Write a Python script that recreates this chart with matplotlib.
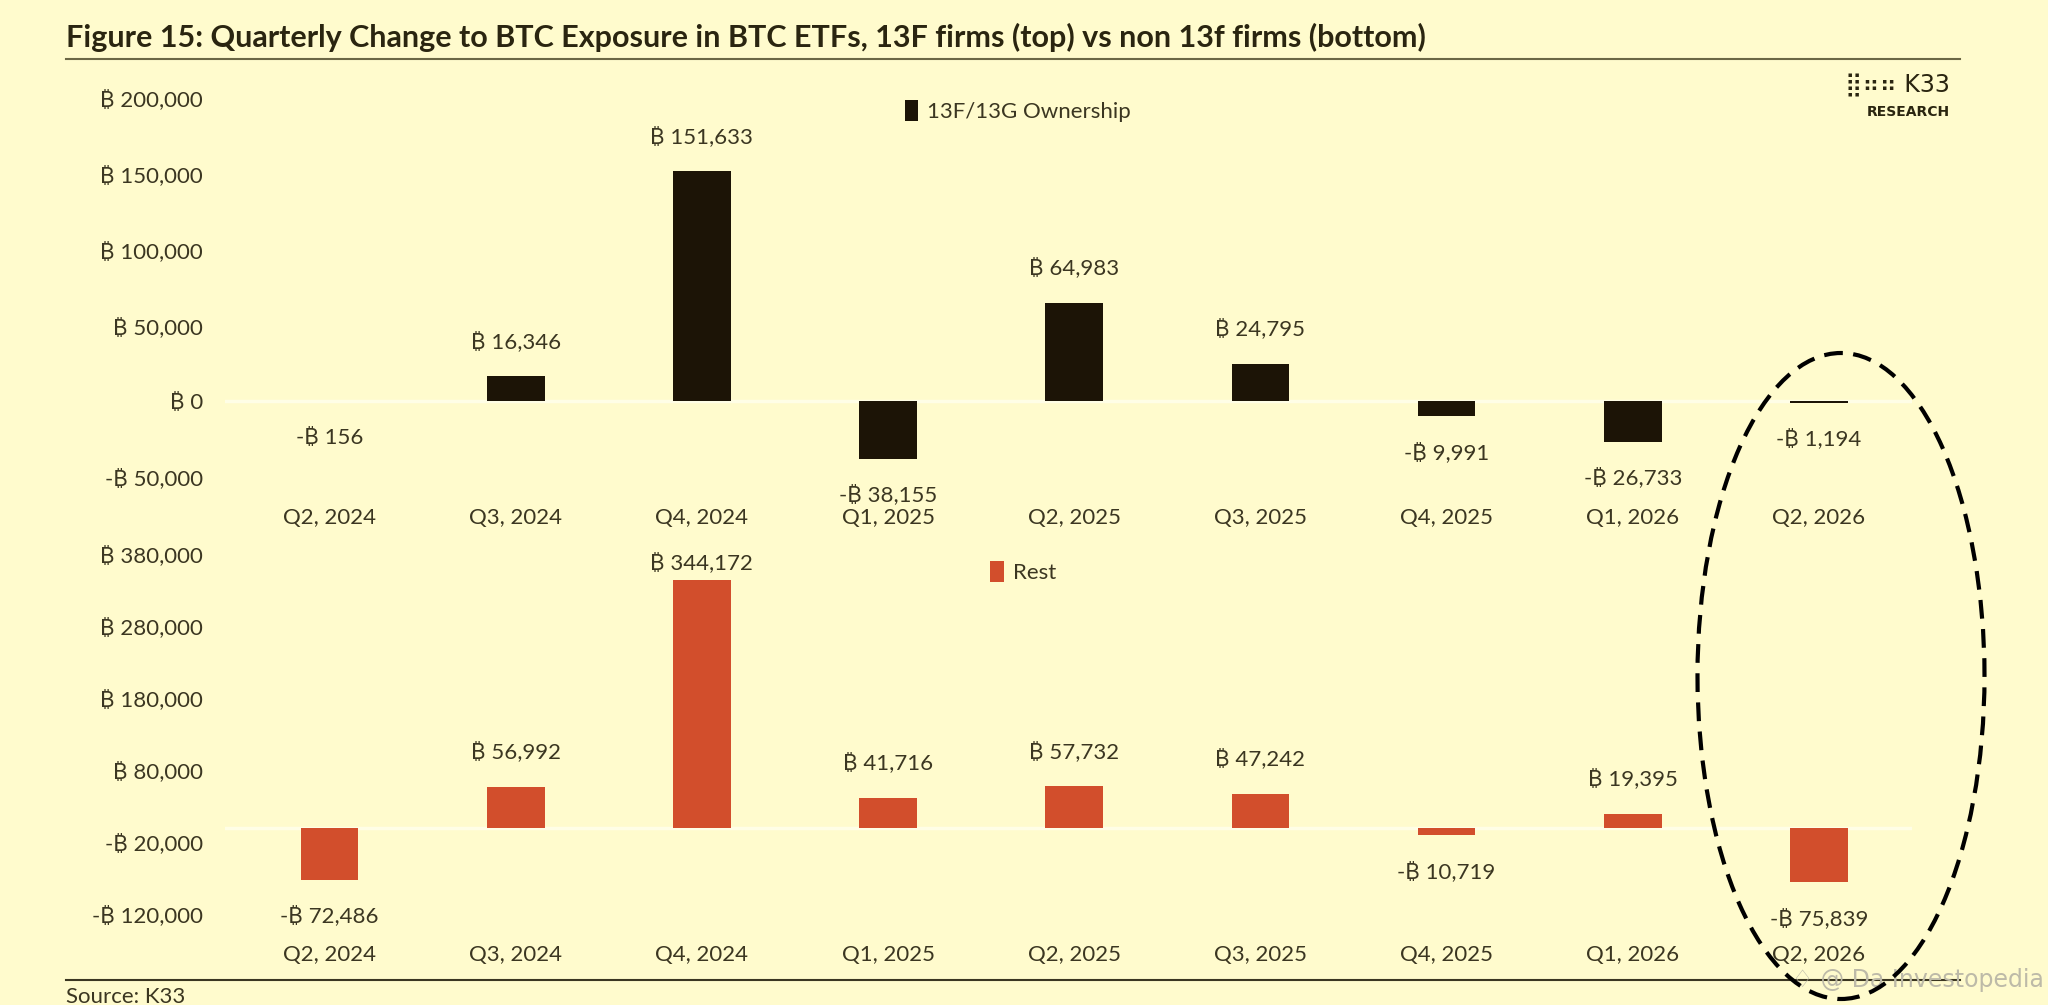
import matplotlib.pyplot as plt
from matplotlib.patches import Ellipse
from matplotlib.ticker import FuncFormatter, FixedLocator

quarters = ["Q2, 2024", "Q3, 2024", "Q4, 2024", "Q1, 2025", "Q2, 2025",
            "Q3, 2025", "Q4, 2025", "Q1, 2026", "Q2, 2026"]
f13_values = [-156, 16346, 151633, -38155, 64983, 24795, -9991, -26733, -1194]
rest_values = [-72486, 56992, 344172, 41716, 57732, 47242, -10719, 19395, -75839]
top_ticks = [-50000, 0, 50000, 100000, 150000, 200000]
bottom_ticks = [-120000, -20000, 80000, 180000, 280000, 380000]

BG = '#FFFBCD'
TXT = '#3B3621'
BLACK = '#1C1406'
RED = '#D24E2C'

plt.rcParams['font.family'] = ['Lato', 'Inter', 'Noto Sans', 'DejaVu Sans']


def btc(v, pos=None):
    if v < 0:
        return f"-\u20bf {abs(v):,.0f}"
    return f"\u20bf {v:,.0f}"


fig = plt.figure(figsize=(20.48, 10.05), dpi=100, facecolor=BG)
ax1 = fig.add_axes([0.110, 0.5254, 0.8236, 0.3771], facecolor=BG)
ax2 = fig.add_axes([0.110, 0.0905, 0.8236, 0.3583], facecolor=BG)

x = list(range(len(quarters)))


def panel(ax, vals, color, ticks, label, off_cap, leg_xy):
    ax.axhline(0, color='#FFFEE6', lw=2.5, zorder=1)
    ax.bar(x, vals, width=0.31, color=color, zorder=2, label=label)
    ax.set_xlim(-0.56, 8.5)
    ax.set_ylim(ticks[0], ticks[-1])
    ax.yaxis.set_major_locator(FixedLocator(ticks))
    ax.yaxis.set_major_formatter(FuncFormatter(btc))
    ax.set_xticks(x)
    ax.set_xticklabels(quarters)
    ax.tick_params(axis='both', length=0, labelsize=16, colors=TXT)
    ax.tick_params(axis='x', pad=22)
    ax.tick_params(axis='y', pad=16)
    for s in ax.spines.values():
        s.set_visible(False)
    for xi, v in zip(x, vals):
        if v >= 0:
            yy = min(v, off_cap)
            ax.annotate(btc(v), (xi, yy), xytext=(0, 25), textcoords='offset points',
                        ha='center', va='center', fontsize=16, color=TXT)
        else:
            ax.annotate(btc(v), (xi, v), xytext=(0, -26), textcoords='offset points',
                        ha='center', va='center', fontsize=16, color=TXT)
    leg = ax.legend(loc='center', bbox_to_anchor=leg_xy, frameon=False, fontsize=16,
                    handlelength=0.6, handleheight=1.1, handletextpad=0.4)
    for t in leg.get_texts():
        t.set_color(TXT)


panel(ax1, f13_values, BLACK, top_ticks, "13F/13G Ownership", 200000, (0.47, 0.966))
panel(ax2, rest_values, RED, bottom_ticks, "Rest", 320000, (0.473, 0.95))

# title and rules
fig.text(0.032, 0.963, "Figure 15: Quarterly Change to BTC Exposure in BTC ETFs, 13F firms (top) vs non 13f firms (bottom)",
         fontsize=22, fontweight='bold', color='#2A2510', va='center', ha='left')
fig.add_artist(plt.Line2D([0.032, 0.957], [0.941, 0.941], color='#6B6745', lw=1.5))
fig.add_artist(plt.Line2D([0.032, 0.957], [0.025, 0.025], color='#3B3621', lw=1.5))
fig.text(0.032, 0.008, "Source: K33", fontsize=16, color=TXT, va='center', ha='left')

# logo
fig.text(0.952, 0.915, "\u28ff\u2836\u2836 K33", fontsize=17, color='#2A2510',
         ha='right', va='center', family=['DejaVu Sans'])
fig.text(0.952, 0.889, "RESEARCH", fontsize=10, fontweight='bold', color='#2A2510',
         ha='right', va='center', family=['DejaVu Sans'])

# highlight ellipse around last quarter
ell = Ellipse((1841 / 2048, 1 - 676 / 1005), 287 / 2048, 646 / 1005,
              transform=fig.transFigure, fill=False, ec='black', lw=3,
              ls=(0, (4.5, 2.5)), zorder=10)
fig.add_artist(ell)

# watermark
fig.text(0.998, 0.025, "\u2662 @ Da Investopedia", fontsize=17, color='#BDBAA8',
         ha='right', va='center', family=['DejaVu Sans'])

fig.savefig("out.png", dpi=100, facecolor=BG)
